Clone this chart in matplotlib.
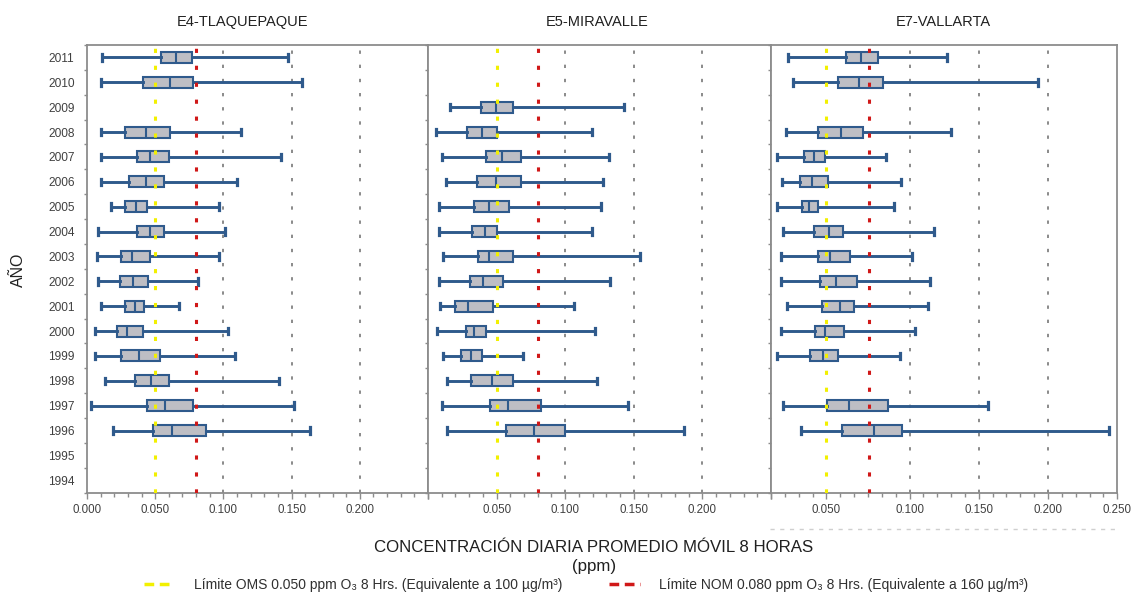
import numpy as np
import matplotlib
matplotlib.use("Agg")
import matplotlib.pyplot as plt
from matplotlib.lines import Line2D
from matplotlib.ticker import FixedLocator, FixedFormatter, NullFormatter

plt.rcParams["font.family"] = ["Liberation Sans", "DejaVu Sans"]
plt.rcParams["lines.scale_dashes"] = False

# ---------------------------------------------------------------- data
years = list(range(1994, 2012))

oms_limit = 0.050   # ppm, WHO guideline
nom_limit = 0.080   # ppm, Mexican standard
grid_values = [0.100, 0.150, 0.200]

# E4-TLAQUEPAQUE
e4_years = [2011, 2010, 2008, 2007, 2006, 2005, 2004, 2003, 2002, 2001, 2000, 1999, 1998, 1997, 1996]
e4_min = [0.0107, 0.0102, 0.0102, 0.0102, 0.0102, 0.0179, 0.0078, 0.0070, 0.0078, 0.0100, 0.0058, 0.0058, 0.0129, 0.0026, 0.0189]
e4_q1 = [0.0541, 0.0411, 0.0277, 0.0366, 0.0309, 0.0277, 0.0366, 0.0250, 0.0243, 0.0280, 0.0220, 0.0250, 0.0351, 0.0438, 0.0482]
e4_med = [0.0652, 0.0608, 0.0430, 0.0460, 0.0430, 0.0359, 0.0460, 0.0331, 0.0337, 0.0351, 0.0294, 0.0379, 0.0467, 0.0571, 0.0620]
e4_q3 = [0.0771, 0.0780, 0.0608, 0.0598, 0.0568, 0.0440, 0.0561, 0.0460, 0.0445, 0.0418, 0.0408, 0.0536, 0.0601, 0.0780, 0.0874]
e4_max = [0.1473, 0.1577, 0.1126, 0.1424, 0.1103, 0.0965, 0.1012, 0.0965, 0.0812, 0.0672, 0.1032, 0.1086, 0.1404, 0.1515, 0.1633]

# E5-MIRAVALLE
e5_years = [2009, 2008, 2007, 2006, 2005, 2004, 2003, 2002, 2001, 2000, 1999, 1998, 1997, 1996]
e5_min = [0.0157, 0.0060, 0.0104, 0.0133, 0.0080, 0.0080, 0.0109, 0.0080, 0.0090, 0.0068, 0.0109, 0.0141, 0.0104, 0.0141]
e5_q1 = [0.0385, 0.0284, 0.0420, 0.0354, 0.0335, 0.0318, 0.0364, 0.0303, 0.0196, 0.0276, 0.0240, 0.0310, 0.0449, 0.0565]
e5_med = [0.0497, 0.0390, 0.0538, 0.0495, 0.0441, 0.0412, 0.0441, 0.0400, 0.0288, 0.0337, 0.0310, 0.0463, 0.0580, 0.0776]
e5_q3 = [0.0623, 0.0500, 0.0677, 0.0679, 0.0594, 0.0502, 0.0618, 0.0548, 0.0473, 0.0420, 0.0393, 0.0623, 0.0822, 0.0997]
e5_max = [0.1427, 0.1192, 0.1320, 0.1274, 0.1260, 0.1194, 0.1548, 0.1325, 0.1066, 0.1218, 0.0694, 0.1230, 0.1456, 0.1864]

# E7-VALLARTA
e7_years = [2011, 2010, 2008, 2007, 2006, 2005, 2004, 2003, 2002, 2001, 2000, 1999, 1997, 1996]
e7_min = [0.0151, 0.0199, 0.0135, 0.0051, 0.0102, 0.0051, 0.0106, 0.0088, 0.0088, 0.0145, 0.0088, 0.0051, 0.0106, 0.0268]
e7_q1 = [0.0637, 0.0580, 0.0427, 0.0295, 0.0265, 0.0283, 0.0391, 0.0422, 0.0443, 0.0458, 0.0400, 0.0352, 0.0502, 0.0609]
e7_med = [0.0747, 0.0733, 0.0602, 0.0388, 0.0373, 0.0346, 0.0519, 0.0525, 0.0566, 0.0594, 0.0490, 0.0467, 0.0663, 0.0824]
e7_q3 = [0.0846, 0.0869, 0.0760, 0.0490, 0.0510, 0.0427, 0.0616, 0.0666, 0.0717, 0.0694, 0.0625, 0.0580, 0.0895, 0.0964]
e7_max = [0.1274, 0.1931, 0.1303, 0.0886, 0.0960, 0.0926, 0.1176, 0.1017, 0.1149, 0.1137, 0.1040, 0.0955, 0.1566, 0.2440]

# E7 axis is drawn with a stretched low range (value knots -> linear axis position)
e7_knot_values = [0.0, 0.050, 0.080, 0.100, 0.250]
e7_knot_pos = [0.0, 0.040, 0.0706, 0.100, 0.250]

panels = [
    ("E4-TLAQUEPAQUE", e4_years, e4_min, e4_q1, e4_med, e4_q3, e4_max),
    ("E5-MIRAVALLE", e5_years, e5_min, e5_q1, e5_med, e5_q3, e5_max),
    ("E7-VALLARTA", e7_years, e7_min, e7_q1, e7_med, e7_q3, e7_max),
]
tick_labels = [
    ["0.000", "0.050", "0.100", "0.150", "0.200", ""],
    ["", "0.050", "0.100", "0.150", "0.200", ""],
    ["", "0.050", "0.100", "0.150", "0.200", "0.250"],
]

# ---------------------------------------------------------------- style
W, H = 1133, 596
BLUE = "#2F5A8C"
BOX_FILL = "#BEBEC4"
FRAME = "#8C8C8C"
TXT = "#404040"
YELLOW = "#F2F000"
RED = "#D01818"
GRAY = "#8A8A8A"

fig = plt.figure(figsize=(W / 100, H / 100), dpi=100)

# panel extents in pixels: (left, right)
panel_px = [(87, 428), (428, 771), (771, 1117.3)]
top_px, bottom_px = 45, 492.7
title_x_px = [242.5, 597, 943]


def e7_fwd(v):
    return np.interp(v, e7_knot_values, e7_knot_pos)


def e7_inv(u):
    return np.interp(u, e7_knot_pos, e7_knot_values)


for i, (name, yrs, lo, q1, med, q3, hi) in enumerate(panels):
    l, r = panel_px[i]
    ax = fig.add_axes([l / W, 1 - bottom_px / H, (r - l) / W, (bottom_px - top_px) / H])

    if i == 2:
        ax.set_xscale("function", functions=(e7_fwd, e7_inv))
    ax.set_xlim(0, 0.25)
    ax.set_ylim(-0.5, len(years) - 0.5)

    # reference grid at 0.100 / 0.150 / 0.200
    for g in grid_values:
        ax.axvline(g, color=GRAY, lw=1.4, dashes=(2.4, 7.8), zorder=1)

    stats = []
    for y, a, b, c, d, e in zip(yrs, lo, q1, med, q3, hi):
        stats.append(dict(whislo=a, q1=b, med=c, q3=d, whishi=e, fliers=[]))
    pos = [years.index(y) for y in yrs]
    ax.bxp(
        stats, positions=pos, widths=0.44, orientation="horizontal",
        patch_artist=True, showfliers=False, manage_ticks=False,
        boxprops=dict(facecolor=BOX_FILL, edgecolor=BLUE, linewidth=1.5),
        whiskerprops=dict(color=BLUE, linewidth=2.1),
        capprops=dict(color=BLUE, linewidth=2.3),
        medianprops=dict(color=BLUE, linewidth=1.5),
        capwidths=0.26, zorder=2,
    )

    # limit lines
    ax.axvline(oms_limit, color=YELLOW, lw=2.2, dashes=(3.0, 9.2), zorder=3)
    ax.axvline(nom_limit, color=RED, lw=2.2, dashes=(3.0, 9.2), zorder=3)

    # x axis ticks
    majors = [0.0, 0.05, 0.10, 0.15, 0.20, 0.25]
    ax.xaxis.set_major_locator(FixedLocator(majors))
    ax.xaxis.set_major_formatter(FixedFormatter(tick_labels[i]))
    if i == 2:
        minors = e7_inv(np.arange(0, 0.2501, 0.01))
    else:
        minors = np.arange(0, 0.2501, 0.01)
    ax.xaxis.set_minor_locator(FixedLocator(minors))
    ax.tick_params(axis="x", which="major", length=4.3, width=1.0, color=FRAME,
                   labelsize=8.3, labelcolor=TXT, pad=4.0, direction="out")
    ax.tick_params(axis="x", which="minor", length=2.8, width=1.0, color=FRAME,
                   direction="out")

    # y axis: year labels on the first panel only, ticks between rows
    ax.yaxis.set_major_locator(FixedLocator(range(len(years))))
    if i == 0:
        ax.yaxis.set_major_formatter(FixedFormatter([str(y) for y in years]))
    else:
        ax.yaxis.set_major_formatter(NullFormatter())
    ax.yaxis.set_minor_locator(FixedLocator(np.arange(-0.5, len(years), 1.0)))
    ax.tick_params(axis="y", which="major", length=0, labelsize=8.6,
                   labelcolor=TXT, pad=9.0)
    ax.tick_params(axis="y", which="minor", length=2.4, width=1.0, color=FRAME,
                   direction="out")

    for s in ax.spines.values():
        s.set_color(FRAME)
        s.set_linewidth(1.3)

    fig.text(title_x_px[i] / W, 1 - 21.7 / H, name, ha="center", va="center",
             fontsize=10.5, color="#202020")

# axis titles
fig.text(18 / W, 1 - 270 / H, "AÑO", rotation=90, ha="center", va="center",
         fontsize=11.5, color="#202020")
fig.text(594 / W, 1 - 548 / H, "CONCENTRACIÓN DIARIA PROMEDIO MÓVIL 8 HORAS",
         ha="center", va="center", fontsize=12.2, color="#202020")
fig.text(594 / W, 1 - 566 / H, "(ppm)",
         ha="center", va="center", fontsize=12.2, color="#202020")

# faint separator under the E7 axis
fig.add_artist(Line2D([770 / W, 1120 / W], [1 - 529 / H] * 2, transform=fig.transFigure,
                      color="#CFCFCF", lw=1.0, dashes=(3, 4)))

# legend
handles = [
    Line2D([], [], color=YELLOW, lw=2.5, dashes=(7, 4)),
    Line2D([], [], color=RED, lw=2.5, dashes=(7, 4)),
]
labels = [
    "Límite OMS 0.050 ppm O₃ 8 Hrs. (Equivalente a 100 µg/m³)",
    "Límite NOM 0.080 ppm O₃ 8 Hrs. (Equivalente a 160 µg/m³)",
]
leg = fig.legend(handles, labels, loc="center", bbox_to_anchor=(586 / W, 1 - 585 / H),
                 ncol=2, frameon=False, fontsize=10, handlelength=2.2,
                 handletextpad=1.4, columnspacing=3.4)
for t in leg.get_texts():
    t.set_color("#303030")

fig.savefig("out.png", dpi=100)
